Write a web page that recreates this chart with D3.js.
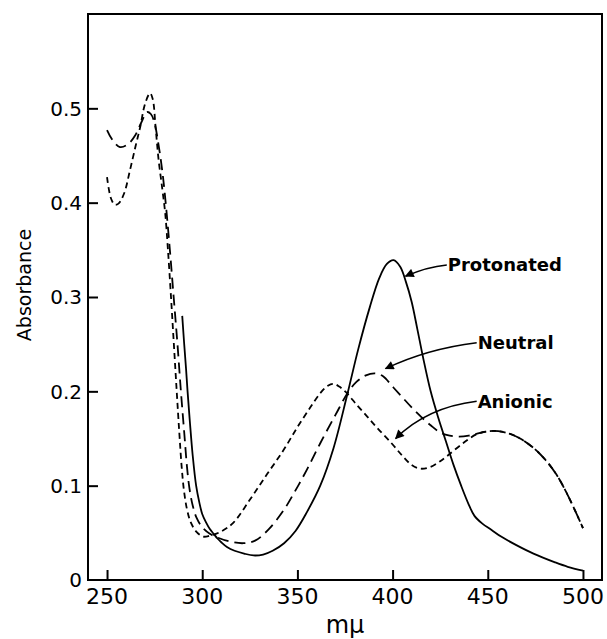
<!DOCTYPE html>
<html>
<head>
<meta charset="utf-8">
<script src="https://cdn.jsdelivr.net/npm/d3@7"></script>
<style>
  body { margin: 0; background: #fff; }
  svg text { font-family: "DejaVu Sans", sans-serif; fill: #000; }
</style>
</head>
<body>
<div id="chart"></div>
<script>
// Set up dimensions
const width = 607;
const height = 639;
const margin = {top: 14, right: 5, bottom: 59, left: 88};

// Data: wavelength (mμ) and absorbance
const protonatedWave = [289.5, 290.5, 291.5, 292.3, 293.5, 295, 296.8, 298.5, 300, 302, 304, 306, 308, 310, 313, 317, 322, 327, 332, 337, 343, 349, 355, 362, 369, 376, 382, 388, 393, 397, 400.5, 404, 407, 410, 413, 416, 420, 424, 428, 432, 436, 440, 443, 447, 452, 457, 465, 474, 485, 492, 500];
const protonatedAbs = [0.28, 0.251, 0.224, 0.2, 0.168, 0.132, 0.1, 0.082, 0.07, 0.061, 0.054, 0.049, 0.044, 0.04, 0.035, 0.031, 0.028, 0.026, 0.027, 0.031, 0.039, 0.052, 0.072, 0.1, 0.14, 0.195, 0.245, 0.289, 0.32, 0.335, 0.339, 0.332, 0.316, 0.295, 0.266, 0.236, 0.2, 0.172, 0.147, 0.122, 0.1, 0.08, 0.068, 0.06, 0.053, 0.046, 0.037, 0.028, 0.019, 0.014, 0.01];

const neutralWave = [250, 253, 256.8, 261, 265, 268, 271, 273, 275, 277, 279, 280.8, 283, 285, 287, 288.8, 290.6, 292, 293.3, 295, 297, 300, 304, 308, 314, 321.6, 328, 335, 342.8, 349, 355, 362, 370, 376.3, 381, 386, 391, 395, 400, 405, 410, 415, 420, 425.3, 430, 435, 440, 446, 453, 460, 467, 474, 480, 486, 492, 500];
const neutralAbs = [0.477, 0.466, 0.459, 0.462, 0.472, 0.485, 0.496, 0.494, 0.484, 0.462, 0.434, 0.4, 0.35, 0.3, 0.25, 0.2, 0.155, 0.12, 0.097, 0.079, 0.066, 0.056, 0.049, 0.045, 0.041, 0.039, 0.042, 0.054, 0.074, 0.095, 0.117, 0.145, 0.175, 0.198, 0.21, 0.217, 0.219, 0.216, 0.205, 0.194, 0.183, 0.173, 0.164, 0.156, 0.153, 0.152, 0.153, 0.156, 0.158, 0.156, 0.15, 0.14, 0.128, 0.112, 0.09, 0.055];

const anionicWave = [250, 252, 254, 256, 259, 262, 265, 267.4, 270, 272.6, 274, 275.5, 277, 279, 280.5, 282, 283.6, 285.1, 286.6, 288, 289.2, 290.4, 292, 294, 297, 300.5, 304, 309.5, 316, 325, 334, 342.8, 350, 356.8, 362, 366, 369, 372, 376, 381, 386.8, 392, 399, 405, 410, 414.7, 420, 425, 429, 437, 444.7, 453, 460, 467, 474, 480, 486, 492, 500];
const anionicAbs = [0.427, 0.405, 0.398, 0.399, 0.41, 0.434, 0.46, 0.48, 0.505, 0.516, 0.51, 0.48, 0.447, 0.415, 0.39, 0.35, 0.3, 0.25, 0.2, 0.155, 0.12, 0.095, 0.075, 0.061, 0.051, 0.046, 0.047, 0.051, 0.06, 0.085, 0.112, 0.138, 0.162, 0.183, 0.198, 0.206, 0.208, 0.205, 0.198, 0.186, 0.173, 0.161, 0.146, 0.132, 0.122, 0.118, 0.12, 0.126, 0.132, 0.145, 0.155, 0.158, 0.156, 0.15, 0.14, 0.128, 0.112, 0.09, 0.055];

// Tick values
const xTicks = [250, 300, 350, 400, 450, 500];
const yTicks = [0.1, 0.2, 0.3, 0.4, 0.5];
const yTickLabels = ['0.1', '0.2', '0.3', '0.4', '0.5'];

// Curve labels with their arrows (text anchor, arrow bend, arrow tip), in data units
const labelNames = ['Protonated', 'Neutral', 'Anionic'];
const labelStart = [[429, 0.334], [444.7, 0.2515], [444.7, 0.1895]];
const labelBend = [[418, 0.332], [418, 0.245], [418, 0.183]];
const labelTip = [[406.8, 0.322], [396.3, 0.224], [401.6, 0.15]];

// Create SVG
const svg = d3.select('#chart')
    .append('svg')
    .attr('width', width)
    .attr('height', height);

const x = d3.scaleLinear()
    .domain([240, 510])
    .range([margin.left, width - margin.right]);

const y = d3.scaleLinear()
    .domain([0, 0.6])
    .range([height - margin.bottom, margin.top]);

// Clip to the frame
svg.append('clipPath')
    .attr('id', 'plot-clip')
    .append('rect')
    .attr('x', margin.left)
    .attr('y', margin.top)
    .attr('width', width - margin.left - margin.right)
    .attr('height', height - margin.top - margin.bottom);

// Frame
svg.append('rect')
    .attr('x', margin.left)
    .attr('y', margin.top)
    .attr('width', width - margin.left - margin.right)
    .attr('height', height - margin.top - margin.bottom)
    .style('fill', 'none')
    .style('stroke', '#000')
    .style('stroke-width', 2);

// Y axis, ticks pointing inward
const yAxis = svg.append('g')
    .attr('transform', `translate(${margin.left},0)`)
    .call(d3.axisRight(y)
        .tickValues(yTicks)
        .tickSize(10)
        .tickFormat(''));
yAxis.select('.domain').remove();
yAxis.selectAll('line').style('stroke-width', 2);

svg.append('g')
    .selectAll('text')
    .data(yTicks)
    .enter()
    .append('text')
    .attr('x', margin.left - 6)
    .attr('y', d => y(d))
    .attr('dy', '0.36em')
    .attr('text-anchor', 'end')
    .style('font-size', '20px')
    .text((d, i) => yTickLabels[i]);

svg.append('text')
    .attr('x', margin.left - 6)
    .attr('y', y(0))
    .attr('dy', '0.36em')
    .attr('text-anchor', 'end')
    .style('font-size', '20px')
    .text('0');

// X axis, ticks pointing inward
const xAxis = svg.append('g')
    .attr('transform', `translate(0,${height - margin.bottom})`)
    .call(d3.axisTop(x)
        .tickValues(xTicks)
        .tickSize(10)
        .tickFormat(''));
xAxis.select('.domain').remove();
xAxis.selectAll('line').style('stroke-width', 2);

svg.append('g')
    .selectAll('text')
    .data(xTicks)
    .enter()
    .append('text')
    .attr('x', d => x(d))
    .attr('y', height - margin.bottom + 24)
    .attr('text-anchor', 'middle')
    .style('font-size', '22px')
    .text(d => d);

// Axis titles
svg.append('text')
    .attr('transform', 'translate(31,285) rotate(-90)')
    .attr('text-anchor', 'middle')
    .style('font-size', '19px')
    .text('Absorbance');

svg.append('text')
    .attr('x', 345)
    .attr('y', 633)
    .attr('text-anchor', 'middle')
    .style('font-size', '24px')
    .text('mμ');

// Curves
const line = d3.line()
    .x(d => x(d[0]))
    .y(d => y(d[1]))
    .curve(d3.curveCatmullRom.alpha(0.5));

const series = [
    {wave: protonatedWave, abs: protonatedAbs, dash: null},
    {wave: neutralWave, abs: neutralAbs, dash: '11,6'},
    {wave: anionicWave, abs: anionicAbs, dash: '6,4'}
];

const curves = svg.append('g').attr('clip-path', 'url(#plot-clip)');
series.forEach(s => {
    curves.append('path')
        .datum(s.wave.map((w, i) => [w, s.abs[i]]))
        .attr('d', line)
        .style('fill', 'none')
        .style('stroke', '#000')
        .style('stroke-width', 1.8)
        .style('stroke-dasharray', s.dash);
});

// Arrowhead
svg.append('defs')
    .append('marker')
    .attr('id', 'arrow')
    .attr('viewBox', '0 0 10 10')
    .attr('refX', 9)
    .attr('refY', 5)
    .attr('markerWidth', 11)
    .attr('markerHeight', 9)
    .attr('markerUnits', 'userSpaceOnUse')
    .attr('orient', 'auto')
    .append('path')
    .attr('d', 'M0,0 L10,5 L0,10 Z')
    .style('fill', '#000');

// Labels and arrows
labelNames.forEach((name, i) => {
    const s = labelStart[i];
    const b = labelBend[i];
    const t = labelTip[i];
    const p = d3.path();
    p.moveTo(x(s[0]) - 1, y(s[1]));
    p.quadraticCurveTo(x(b[0]), y(b[1]), x(t[0]), y(t[1]));
    svg.append('path')
        .attr('d', p.toString())
        .style('fill', 'none')
        .style('stroke', '#000')
        .style('stroke-width', 1.5)
        .attr('marker-end', 'url(#arrow)');
    svg.append('text')
        .attr('x', x(s[0]))
        .attr('y', y(s[1]))
        .attr('dy', '0.36em')
        .style('font-size', '18px')
        .style('font-weight', 'bold')
        .text(name);
});
</script>
</body>
</html>
